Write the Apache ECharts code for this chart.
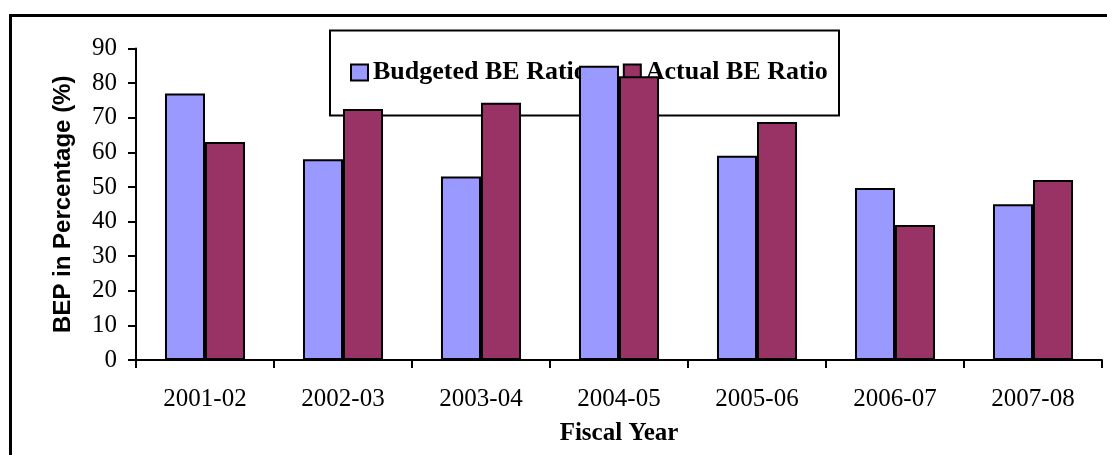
<!DOCTYPE html>
<html>
<head>
<meta charset="utf-8">
<style>
  html, body { margin: 0; padding: 0; background: #ffffff; }
  #chart { width: 1107px; height: 455px; }
</style>
<script src="https://cdn.jsdelivr.net/npm/echarts@6/dist/echarts.min.js"></script>
</head>
<body>
<div id="chart"></div>
<script>
// Break-even ratios by fiscal year
const fiscalYears = ['2001-02', '2002-03', '2003-04', '2004-05', '2005-06', '2006-07', '2007-08'];
const budgetedRatio = [77, 58, 53, 85, 59, 49.7, 45];
const actualRatio = [63, 72.5, 74.3, 82, 68.8, 39, 52];
const seriesNames = ['Budgeted BE Ratio', 'Actual BE Ratio'];

const serif = '"Liberation Serif", "Times New Roman", serif';
const sans = '"Liberation Sans", Arial, sans-serif';

const chart = echarts.init(document.getElementById('chart'), null, { renderer: 'canvas' });

chart.setOption({
  animation: false,
  backgroundColor: '#ffffff',
  graphic: [
    // outer frame (top and left edges)
    {
      type: 'polyline',
      z: 0,
      shape: { points: [[10.5, 455], [10.5, 15.5], [1107, 15.5]] },
      style: { stroke: '#000', lineWidth: 3, fill: null }
    },
    // legend box
    {
      type: 'rect',
      z: 0,
      shape: { x: 330, y: 30.5, width: 509, height: 85 },
      style: { stroke: '#000', lineWidth: 2, fill: '#fff' }
    }
  ],
  legend: {
    z: 1,
    left: 350,
    top: 59.5,
    padding: 0,
    itemWidth: 17,
    itemHeight: 16,
    itemGap: 36,
    icon: 'rect',
    itemStyle: { borderColor: '#000', borderWidth: 2 },
    textStyle: { fontFamily: serif, fontSize: 26, fontWeight: 'bold', color: '#000' },
    data: seriesNames
  },
  grid: { left: 136, right: 5, top: 48.5, bottom: 95, containLabel: false },
  xAxis: {
    type: 'category',
    data: fiscalYears,
    name: 'Fiscal Year',
    nameLocation: 'middle',
    nameGap: 61,
    nameTextStyle: { fontFamily: serif, fontSize: 25, fontWeight: 'bold', color: '#000' },
    axisLine: { lineStyle: { color: '#000', width: 2 } },
    axisTick: { show: true, length: 8, lineStyle: { color: '#000', width: 2 } },
    axisLabel: { fontFamily: serif, fontSize: 25, color: '#000', margin: 27 },
    splitLine: { show: false }
  },
  yAxis: {
    type: 'value',
    min: 0,
    max: 90,
    interval: 10,
    name: 'BEP in Percentage (%)',
    nameLocation: 'middle',
    nameGap: 61,
    nameTextStyle: { fontFamily: sans, fontSize: 24, fontWeight: 'bold', color: '#000' },
    axisLine: { show: true, lineStyle: { color: '#000', width: 2 } },
    axisTick: { show: true, length: 8, lineStyle: { color: '#000', width: 2 } },
    axisLabel: { fontFamily: serif, fontSize: 25, color: '#000', margin: 19 },
    splitLine: { show: false }
  },
  series: [
    {
      name: seriesNames[0],
      type: 'bar',
      z: 3,
      data: budgetedRatio,
      barWidth: '29%',
      barGap: '0%',
      itemStyle: { color: '#9999FF', borderColor: '#000', borderWidth: 2 }
    },
    {
      name: seriesNames[1],
      type: 'bar',
      z: 3,
      data: actualRatio,
      barWidth: '29%',
      barGap: '0%',
      itemStyle: { color: '#993366', borderColor: '#000', borderWidth: 2 }
    }
  ]
});
</script>
</body>
</html>
